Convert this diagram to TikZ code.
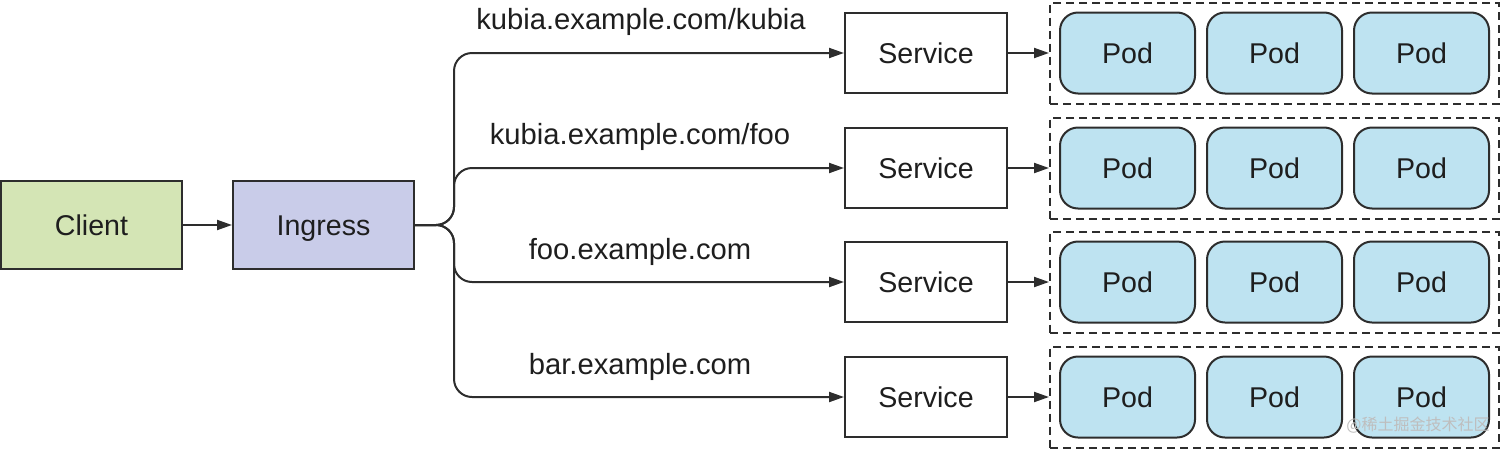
\documentclass[tikz,border=0pt]{standalone}
\usepackage{fontspec}
\setmainfont{Liberation Sans}
\newfontfamily\cjkfont{Noto Sans CJK SC}
\usepackage{xcolor}
\usetikzlibrary{arrows.meta,positioning,fit}
\definecolor{clientgreen}{RGB}{212,229,181}
\definecolor{ingresspurple}{RGB}{201,204,233}
\definecolor{podblue}{RGB}{190,227,241}
\definecolor{linegray}{RGB}{45,45,45}
\definecolor{textgray}{RGB}{30,30,30}
\definecolor{markgray}{RGB}{190,190,190}
\tikzset{
  mainbox/.style={draw=linegray, line width=1pt, align=center,
                  minimum width=#1, minimum height=44pt,
                  font=\fontsize{14.3}{16}\selectfont, text=textgray,
                  text height=10.3pt, text depth=0pt, inner sep=2pt},
  mainbox/.default=90.5pt,
  clientbox/.style ={mainbox, fill=clientgreen},
  ingressbox/.style={mainbox, fill=ingresspurple},
  svcbox/.style    ={mainbox=81pt, fill=white, minimum height=40pt},
  podbox/.style    ={mainbox=67.5pt, fill=podblue, minimum height=40.5pt,
                     rounded corners=9pt},
  groupbox/.style  ={draw=linegray, line width=1pt,
                     dash pattern=on 4pt off 2.5pt, inner sep=4.5pt},
  hostlabel/.style ={font=\fontsize{14.6}{16}\selectfont, text=textgray,
                     inner sep=0pt},
  arr/.style       ={-{Triangle[length=7.5pt,width=5pt]}, line width=1pt,
                     draw=linegray},
  brarr/.style     ={arr, rounded corners=9pt},
}

\begin{document}
\begin{tikzpicture}[x=0.5pt, y=-0.5pt]
  \useasboundingbox (0,0) rectangle (1502,450);

  \node[clientbox] (client) at (91.5,225) {Client};
  \node[ingressbox, right=24.5pt of client] (ingress) {Ingress};
  \coordinate (trunk) at (454,225);

  % one row per host rule
  \node[svcbox] (svc1) at (926,53)  {Service};
  \node[svcbox] (svc2) at (926,168) {Service};
  \node[svcbox] (svc3) at (926,282) {Service};
  \node[svcbox] (svc4) at (926,397) {Service};

  \node[hostlabel] (host1) at (641,22)  {kubia.example.com/kubia};
  \node[hostlabel] (host2) at (640,137) {kubia.example.com/foo};
  \node[hostlabel] (host3) at (640,252) {foo.example.com};
  \node[hostlabel] (host4) at (640,367) {bar.example.com};

  \node[podbox, right=25.5pt of svc1] (pod11) {Pod};
  \node[podbox, right=5pt of pod11] (pod12) {Pod};
  \node[podbox, right=5pt of pod12] (pod13) {Pod};
  \node[podbox, right=25.5pt of svc2] (pod21) {Pod};
  \node[podbox, right=5pt of pod21] (pod22) {Pod};
  \node[podbox, right=5pt of pod22] (pod23) {Pod};
  \node[podbox, right=25.5pt of svc3] (pod31) {Pod};
  \node[podbox, right=5pt of pod31] (pod32) {Pod};
  \node[podbox, right=5pt of pod32] (pod33) {Pod};
  \node[podbox, right=25.5pt of svc4] (pod41) {Pod};
  \node[podbox, right=5pt of pod41] (pod42) {Pod};
  \node[podbox, right=5pt of pod42] (pod43) {Pod};

  \node[groupbox, fit=(pod11)(pod13)] (grp1) {};
  \node[groupbox, fit=(pod21)(pod23)] (grp2) {};
  \node[groupbox, fit=(pod31)(pod33)] (grp3) {};
  \node[groupbox, fit=(pod41)(pod43)] (grp4) {};

  \node[font=\cjkfont\fontsize{8}{9}\selectfont, text=markgray,
        anchor=east, inner sep=0pt] (mark) at (1490,425) {@稀土掘金技术社区};

  \draw[arr] (client) -- (ingress);
  \draw[brarr] (ingress.east) -- (trunk) |- (svc1.west);
  \draw[brarr] (ingress.east) -- (trunk) |- (svc2.west);
  \draw[brarr] (ingress.east) -- (trunk) |- (svc3.west);
  \draw[brarr] (ingress.east) -- (trunk) |- (svc4.west);
  \draw[arr] (svc1) -- (grp1);
  \draw[arr] (svc2) -- (grp2);
  \draw[arr] (svc3) -- (grp3);
  \draw[arr] (svc4) -- (grp4);
\end{tikzpicture}
\end{document}
